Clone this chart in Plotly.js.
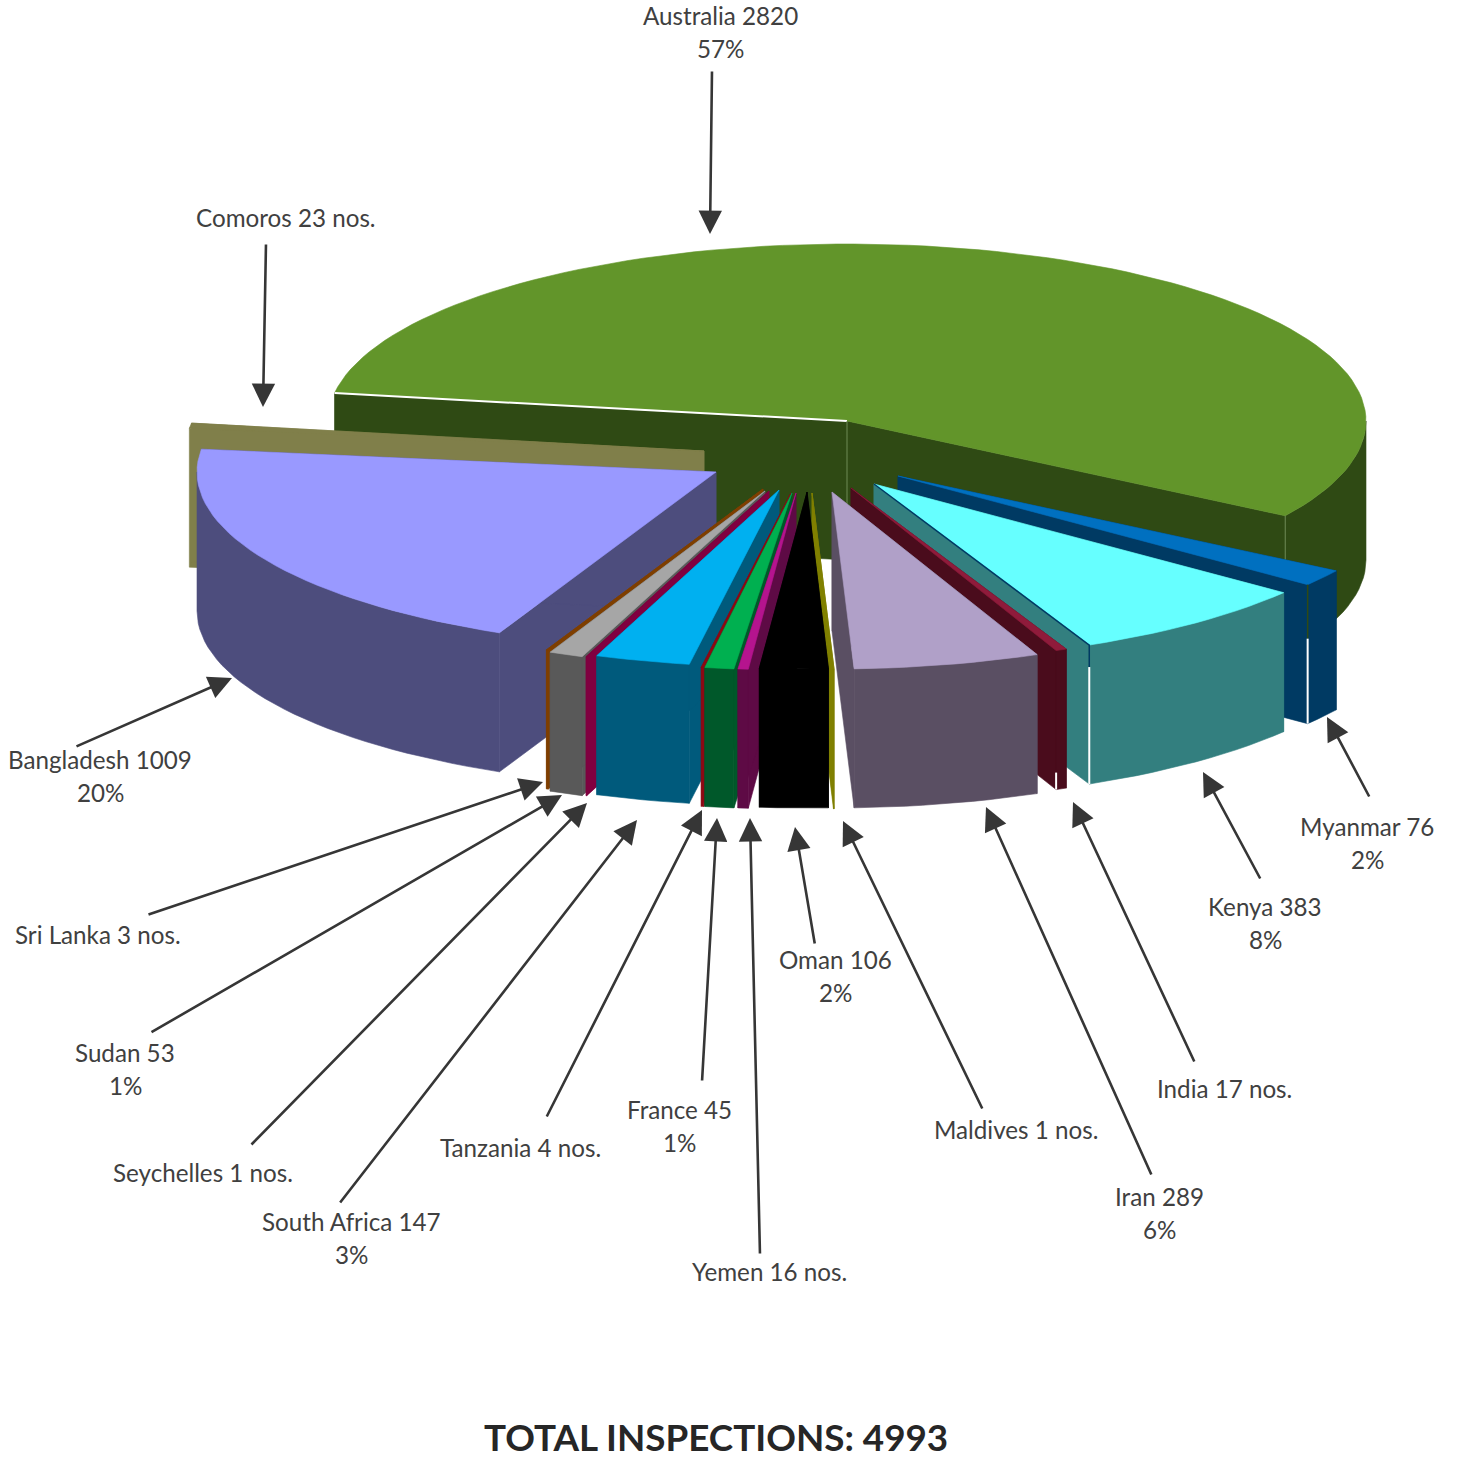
<!DOCTYPE html>
<html>
<head>
<meta charset="utf-8">
<script src="https://cdn.plot.ly/plotly-3.0.1.min.js"></script>
<style>html,body{margin:0;padding:0;background:#fff}#chart{width:1458px;height:1458px}</style>
</head>
<body>
<div id="chart"></div>
<script>
// ---- data (clockwise order from Australia) ----
const countries = ["Australia","Myanmar","Kenya","India","Iran","Maldives","Oman","Yemen","France","Tanzania","South Africa","Seychelles","Sudan","Sri Lanka","Bangladesh","Comoros"];
const inspections = [2820,76,383,17,289,1,106,16,45,4,147,1,53,3,1009,23];
const secondLines = ["57%","2%","8%","","6%","","2%","","1%","","3%","","1%","","20%",""];
const totalTitle = "TOTAL INSPECTIONS: 4993";

// ---- styles ----
const topColors  = ["#62952A","#0070C0","#66FFFF","#8F1B3B","#B0A0C8","#808000","#000000","#B5148E","#00B050","#8B0A14","#00B0F0","#800040","#A6A6A6","#7F3F00","#9999FF","#807F4A"];
const sideColors = ["#2F4A14","#003A63","#337F7F","#4A0C1C","#5A4F63","#808000","#000000","#5E0A45","#00582A","#8B0A14","#005A7C","#800040","#595959","#7F3F00","#4D4D7D","#807F4A"];
// position of each exploded wedge's tip, in page pixels
const tipX = [847,898,874,851,832,812,807,796,792,791,779,769,765,763,716,704];
const tipY = [421,476,484,488,492,493,492,493,493,493,490,491,491,489,472,451];
const paintOrder = [0,15,14,1,2,3,4,13,12,11,10,9,8,7,5,6];
const rx = 519, ry = 177, depth = 139, startDeg = 32.4;
// label placement: centre of the label, arrow tail, arrow head
const labelX = [720,1367,1265,1224,1159,1016,835,769,679,520,351,203,125,98,100,286];
const labelY = [33,844,924,1090,1214,1131,977,1273,1127,1149,1239,1174,1070,936,777,219];
const tailX = [712,1370,1261,1195,1152,983,815,760,702,546,339,250,150,147,75,266];
const tailY = [70,798,880,1063,1176,1110,945,1255,1082,1118,1204,1146,1033,915,747,243];
const headX = [710,1327,1203,1073,986,843,795,750,717,702,637,587,562,543,232,263];
const headY = [234,717,772,802,807,821,827,818,818,810,820,803,795,782,678,407];

// ---- geometry derived from the values ----
const total = inspections.reduce((a,b)=>a+b,0);
const rad = d => d*Math.PI/180;
const ranges = [];
{
  let a = startDeg;
  ranges[0] = [a - inspections[0]/total*360, a];
  for (let i=1;i<inspections.length;i++){
    const s = inspections[i]/total*360;
    ranges[i] = [a, a+s];
    a += s;
  }
}
const px = (i,d) => tipX[i] + rx*Math.cos(rad(d));
const py = (i,d) => tipY[i] + ry*Math.sin(rad(d));
function arc(i,a,b){
  const n = Math.max(1,Math.ceil(Math.abs(b-a)/2));
  const xs=[],ys=[];
  for(let k=0;k<=n;k++){const d=a+(b-a)*k/n;xs.push(px(i,d));ys.push(py(i,d));}
  return [xs,ys];
}
function poly(xs,ys,color){
  return {type:"scatter",mode:"lines",x:xs.concat(xs[0]),y:ys.concat(ys[0]),fill:"toself",fillcolor:color,
          line:{color:color,width:0.6},hoverinfo:"skip",showlegend:false};
}
function edge(xs,ys,color,w){
  return {type:"scatter",mode:"lines",x:xs,y:ys,line:{color:color,width:w},hoverinfo:"skip",showlegend:false};
}
const traces = [];
paintOrder.forEach(i=>{
  const [a,b] = ranges[i], c = sideColors[i], X=tipX[i], Y=tipY[i];
  [a,b].forEach(d=>{
    traces.push(poly([X,px(i,d),px(i,d),X],[Y,py(i,d),py(i,d)+depth,Y+depth],c));
  });
  const lo=Math.max(a,0), hi=Math.min(b,180);
  if(hi>lo){
    const [ax,ay]=arc(i,lo,hi);
    traces.push(poly(ax.concat(ax.slice().reverse()),ay.concat(ay.slice().reverse().map(v=>v+depth)),c));
  }
  const [tx,ty]=arc(i,a,b);
  traces.push(poly([X].concat(tx),[Y].concat(ty),topColors[i]));
  const ex=px(i,b), ey=py(i,b);
  if(i===0){
    traces.push(edge([px(i,a),X],[py(i,a),Y],"#FFFFFF",2));
    traces.push(edge([X,X],[Y,Y+depth],"#6F8A55",1));
    traces.push(edge([ex,ex],[ey,ey+depth],"#6F8A55",1));
  }
  if(i===1){
    traces.push(edge([ex,ex],[ey,ey+54],"#2F4A14",1.5));
    traces.push(edge([ex,ex],[ey+54,ey+depth],"#FFFFFF",2));
  }
  if(i===2){
    traces.push(edge([X,ex,ex],[Y,ey,ey+22],"#003A63",1.5));
    traces.push(edge([ex,ex],[ey+22,ey+depth],"#FFFFFF",2));
  }
  if(i===3){
    traces.push(edge([ex,ex],[ey+122,ey+depth],"#FFFFFF",2));
  }
});

// ---- labels and arrows ----
const fontFace = "Lato, Carlito, 'Open Sans', sans-serif";
const labelFont = {family:fontFace,size:24.2,color:"#404040"};
const lineGap = 16.5, textNudge = -1.5;
const annotations = [];
function addLine(x,y,text){
  annotations.push({x:x,y:y+textNudge,xref:"x",yref:"y",text:text,showarrow:false,xanchor:"center",yanchor:"middle",font:labelFont});
}
countries.forEach((name,i)=>{
  if(secondLines[i]){
    addLine(labelX[i],labelY[i]-lineGap,name+" "+inspections[i]);
    addLine(labelX[i],labelY[i]+lineGap,secondLines[i]);
  } else {
    addLine(labelX[i],labelY[i],name+" "+inspections[i]+" nos.");
  }
  annotations.push({x:headX[i],y:headY[i],ax:tailX[i],ay:tailY[i],xref:"x",yref:"y",axref:"x",ayref:"y",text:"",
    showarrow:true,arrowhead:2,arrowsize:1.8,arrowwidth:2.6,arrowcolor:"#363636"});
});
annotations.push({x:716,y:1437,xref:"x",yref:"y",text:"<b>"+totalTitle+"</b>",showarrow:false,xanchor:"center",yanchor:"middle",
  font:{family:fontFace,size:36.8,color:"#262626"}});

const layout = {
  width:1458,height:1458,margin:{l:0,r:0,t:0,b:0},paper_bgcolor:"#FFFFFF",plot_bgcolor:"#FFFFFF",showlegend:false,
  xaxis:{range:[0,1458],visible:false,fixedrange:true},
  yaxis:{range:[1458,0],visible:false,fixedrange:true},
  annotations:annotations
};
Plotly.newPlot("chart",traces,layout,{displayModeBar:false,staticPlot:true});
</script>
</body>
</html>
